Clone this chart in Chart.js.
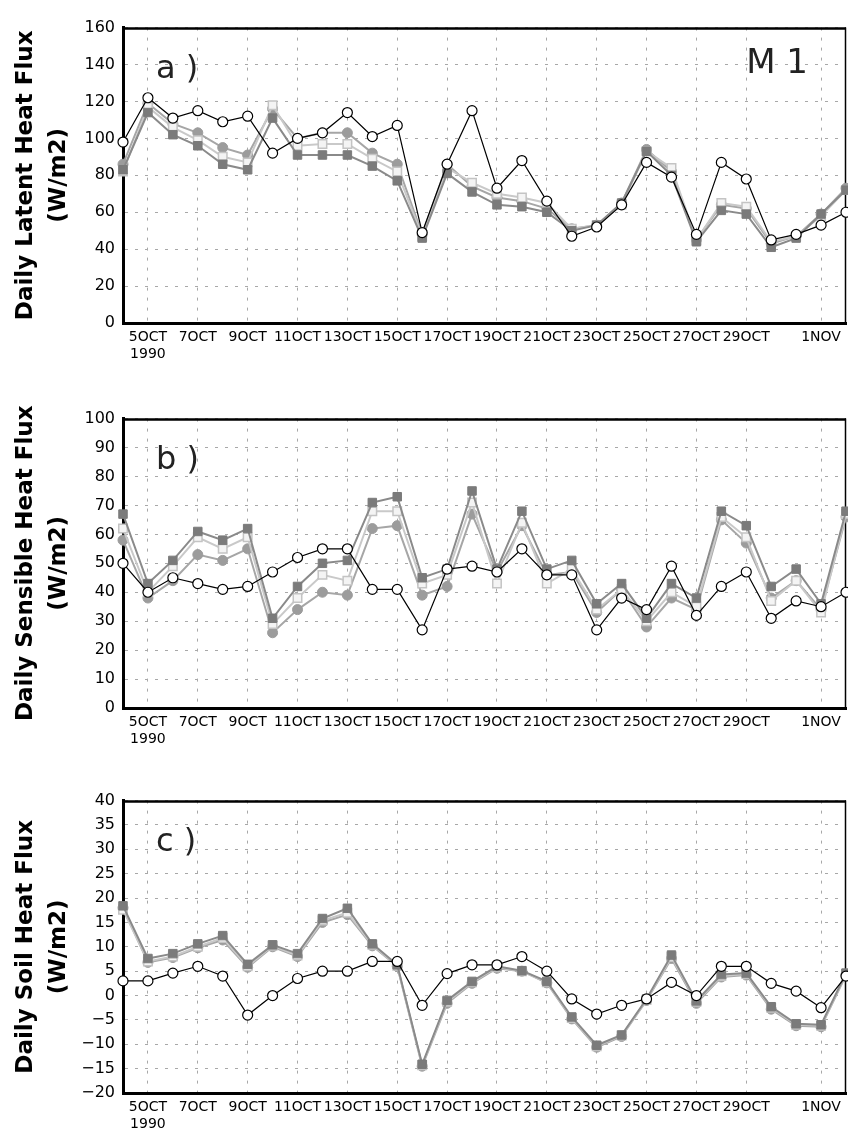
<!DOCTYPE html>
<html>
<head>
<meta charset="utf-8">
<script src="https://cdn.jsdelivr.net/npm/chart.js@4/dist/chart.umd.min.js"></script>
<style>
  body { margin: 0; background: #fff; }
  #wrap { position: relative; width: 848px; height: 1137px; }
  canvas { position: absolute; left: 0; }
</style>
</head>
<body>
<div id="wrap">
  <canvas id="panelA" width="848" height="360" style="top:10px"></canvas>
  <canvas id="panelB" width="848" height="359" style="top:401px"></canvas>
  <canvas id="panelC" width="848" height="354" style="top:783px"></canvas>
</div>
<script>
// days, 4 OCT 1990 .. 2 NOV 1990
var days = ['4OCT','5OCT','6OCT','7OCT','8OCT','9OCT','10OCT','11OCT','12OCT','13OCT',
            '14OCT','15OCT','16OCT','17OCT','18OCT','19OCT','20OCT','21OCT','22OCT','23OCT',
            '24OCT','25OCT','26OCT','27OCT','28OCT','29OCT','30OCT','31OCT','1NOV','2NOV'];
var tickLabels = ['', '5OCT\n1990', '', '7OCT', '', '9OCT', '', '11OCT', '', '13OCT',
                  '', '15OCT', '', '17OCT', '', '19OCT', '', '21OCT', '', '23OCT',
                  '', '25OCT', '', '27OCT', '', '29OCT', '', '', '1NOV', ''];

// a) latent heat flux
var latentTicks = [0, 20, 40, 60, 80, 100, 120, 140, 160];
var latentObs   = [98,122,111,115,109,112,92,100,103,114,101,107,49,86,115,73,88,66,47,52,64,87,79,48,87,78,45,48,53,60];
var latentDark  = [83,114,102,96,86,83,111,91,91,91,85,77,46,81,71,64,63,60,50,53,65,93,80,44,61,59,41,46,59,72];
var latentMid   = [86,119,108,103,95,91,116,100,103,103,92,86,48,86,74,68,66,62,51,53,65,94,82,45,64,62,43,47,59,73];
var latentLight = [82,117,106,99,90,87,118,96,97,97,89,82,47,84,76,70,68,65,51,53,64,93,84,45,65,63,44,47,58,72];

// b) sensible heat flux
var sensTicks = [0, 10, 20, 30, 40, 50, 60, 70, 80, 90, 100];
var sensObs   = [50,40,45,43,41,42,47,52,55,55,41,41,27,48,49,47,55,46,46,27,38,34,49,32,42,47,31,37,35,40];
var sensDark  = [67,43,51,61,58,62,31,42,50,51,71,73,45,48,75,48,68,48,51,36,43,31,43,38,68,63,42,48,36,68];
var sensMid   = [58,38,44,53,51,55,26,34,40,39,62,63,39,42,67,47,63,46,47,33,41,28,38,34,65,57,38,44,34,66];
var sensLight = [62,40,49,59,55,59,29,38,46,44,68,68,43,46,71,43,64,43,48,34,41,30,40,35,66,59,37,44,33,67];

// c) soil heat flux
var soilTicks = [-20, -15, -10, -5, 0, 5, 10, 15, 20, 25, 30, 35, 40];
var soilObs   = [3,3,4.6,6,4,-4,0,3.5,5,5,7,7,-2,4.5,6.3,6.3,8,5,-0.7,-3.8,-2,-0.7,2.7,0,6,6,2.5,0.9,-2.5,4];
var soilDark  = [18.4,7.6,8.6,10.6,12.3,6.4,10.4,8.6,15.8,17.9,10.6,6.3,-14.1,-1,2.9,6,5.1,2.9,-4.4,-10.2,-8.1,-0.7,8.3,-1.1,4.3,4.6,-2.3,-5.8,-6,4.6];
var soilMid   = [18,6.8,7.8,9.8,11.4,5.8,10,8,15,16.6,10.2,6,-14.5,-1.6,2.5,5.6,5,2.6,-4.8,-10.6,-8.4,-1,7.6,-1.6,3.8,4.2,-2.8,-6.2,-6.4,4.2];
var soilLight = [17.6,7,8,10,11.8,6,10.2,8.2,15.4,17,10.4,6.1,-14.3,-1.3,2.7,5.8,5,2.7,-4.6,-10.4,-8.2,-0.9,7.9,-1.3,4,4.4,-2.5,-6,-6.2,4.4];

var framePlugin = {
    id: 'frame',
    beforeDatasetsDraw: function(chart, args, opts){
        var ctx = chart.ctx, a = chart.chartArea;
        ctx.save();
        ctx.strokeStyle = '#000';
        ctx.lineWidth = 2.5;
        ctx.beginPath(); ctx.moveTo(a.left, a.top + 1); ctx.lineTo(a.right, a.top + 1); ctx.stroke();
        ctx.lineWidth = 1.5;
        ctx.beginPath(); ctx.moveTo(a.right - 0.5, a.top); ctx.lineTo(a.right - 0.5, a.bottom); ctx.stroke();
        ctx.fillStyle = '#222';
        ctx.font = '32px "DejaVu Sans"';
        ctx.textAlign = 'left';
        ctx.fillText(opts.label, a.left + 33, a.top + 50);
        if(opts.tag){
            ctx.font = '34px "DejaVu Sans"';
            ctx.textAlign = 'right';
            ctx.fillText(opts.tag, a.right - 38, a.top + 45);
        }
        ctx.restore();
    }
};

function makeSet(data, style){
    return Object.assign({ data: data, tension: 0, fill: false }, style);
}

var obsStyle   = { borderColor: '#000', borderWidth: 1.2, pointStyle: 'circle', pointRadius: 5,
                   pointBackgroundColor: '#fff', pointBorderColor: '#000', pointBorderWidth: 1.2 };
var darkStyle  = { borderColor: '#8a8a8a', borderWidth: 2, pointStyle: 'rect', pointRadius: 6,
                   pointBackgroundColor: '#7b7b7b', pointBorderColor: '#7b7b7b', pointBorderWidth: 1 };
var midStyle   = { borderColor: '#a6a6a6', borderWidth: 2, pointStyle: 'circle', pointRadius: 5,
                   pointBackgroundColor: '#9c9c9c', pointBorderColor: '#9c9c9c', pointBorderWidth: 1 };
var lightStyle = { borderColor: '#c9c9c9', borderWidth: 2, pointStyle: 'rect', pointRadius: 6,
                   pointBackgroundColor: '#f4f4f4', pointBorderColor: '#c4c4c4', pointBorderWidth: 1.5 };

function makePanel(id, p){
    var ctx = document.getElementById(id).getContext('2d');
    return new Chart(ctx, {
        type: 'line',
        data: {
            labels: days,
            datasets: [
                makeSet(p.obs, obsStyle),
                makeSet(p.dark, darkStyle),
                makeSet(p.light, lightStyle),
                makeSet(p.mid, midStyle)
            ]
        },
        options: {
            responsive: false,
            animation: false,
            layout: { autoPadding: false, padding: { top: 10, right: 2, left: 0, bottom: 0 } },
            plugins: {
                legend: { display: false },
                tooltip: { enabled: false },
                frame: { label: p.label, tag: p.tag }
            },
            scales: {
                x: {
                    offset: false,
                    afterFit: function(scale){ scale.height = p.xHeight; },
                    grid: {
                        drawTicks: true, tickLength: 6, tickColor: 'rgba(0,0,0,0)',
                        color: function(c){ return tickLabels[c.index] ? '#a8a8a8' : 'rgba(0,0,0,0)'; },
                        lineWidth: 1
                    },
                    border: { color: '#000', width: 3, dash: [3, 7] },
                    ticks: {
                        autoSkip: false, maxRotation: 0, padding: 0, color: '#000',
                        font: { family: 'DejaVu Sans', size: 14 },
                        callback: function(v, i){ var t = tickLabels[i]; return t.indexOf('\n') >= 0 ? t.split('\n') : t; }
                    }
                },
                y: {
                    min: p.ticks[0],
                    max: p.ticks[p.ticks.length - 1],
                    afterFit: function(scale){ scale.width = 123; },
                    afterBuildTicks: function(scale){ scale.ticks = p.ticks.map(function(v){ return { value: v }; }); },
                    grid: { drawTicks: false, color: '#a8a8a8', lineWidth: 1 },
                    border: { color: '#000', width: 3, dash: [3, 7] },
                    ticks: {
                        padding: 8, color: '#000',
                        font: { family: 'DejaVu Sans', size: 16 },
                        callback: function(v){ return v < 0 ? '\u2212' + Math.abs(v) : String(v); }
                    },
                    title: {
                        display: true, text: p.title, color: '#000',
                        padding: { top: 9, bottom: 0 },
                        font: { family: 'DejaVu Sans', size: 23, weight: 'bold', lineHeight: 1.45 }
                    }
                }
            }
        },
        plugins: [framePlugin]
    });
}

makePanel('panelA', { obs: latentObs, dark: latentDark, mid: latentMid, light: latentLight,
    ticks: latentTicks, title: ['Daily Latent Heat Flux', '(W/m2)'], label: 'a )', tag: 'M 1', xHeight: 47 });
makePanel('panelB', { obs: sensObs, dark: sensDark, mid: sensMid, light: sensLight,
    ticks: sensTicks, title: ['Daily Sensible Heat Flux', '(W/m2)'], label: 'b )', xHeight: 52 });
makePanel('panelC', { obs: soilObs, dark: soilDark, mid: soilMid, light: soilLight,
    ticks: soilTicks, title: ['Daily Soil Heat Flux', '(W/m2)'], label: 'c )', xHeight: 44 });
</script>
</body>
</html>
